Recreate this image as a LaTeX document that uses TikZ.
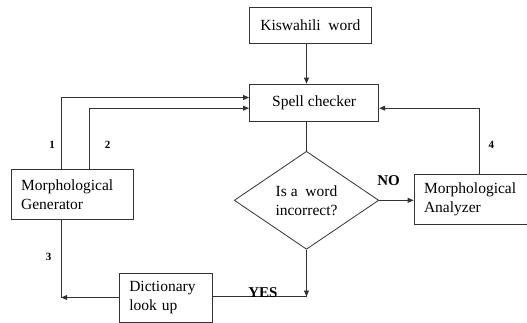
\documentclass[tikz,border=0pt]{standalone}
\usepackage{fontspec}
\setmainfont{Liberation Serif}
\usetikzlibrary{shapes.geometric,arrows.meta}
\begin{document}
\begin{tikzpicture}[x=1pt,y=-1pt,
  box/.style={draw=black!80, line width=0.8pt, rectangle, inner sep=0pt, font=\fontsize{15.5}{19}\selectfont},
  lbox/.style={box, align=left, text width=#1, inner xsep=10pt},
  conn/.style={draw=black!80, line width=0.8pt},
  arr/.style={conn, -{Triangle[length=6pt,width=5pt]}},
  num/.style={font=\fontsize{11}{13}\selectfont\bfseries, anchor=base},
  yn/.style={font=\fontsize{15}{17}\selectfont\bfseries, anchor=base}]
\useasboundingbox (0,0) rectangle (527,323);
\node[box, minimum width=122pt, minimum height=35.6pt] (kis) at (310.4,25.2) {Kiswahili\ \ word};
\node[box, minimum width=129.4pt, minimum height=37.7pt] (spell) at (314.1,102.9) {Spell checker};
\node[diamond, draw=black!80, line width=0.8pt, minimum width=144.5pt, minimum height=98pt, inner sep=0pt, align=center, font=\fontsize{15.5}{19}\selectfont] (dia) at (306.5,200.3) {Is a\ \ word\\incorrect?};
\node[lbox=102.7pt, minimum height=50.5pt] (gen) at (72.5,194.3) {Morphological\\Generator};
\node[lbox=96pt, minimum height=49.4pt] (ana) at (472,199.5) {Morphological\\Analyzer};
\node[lbox=73.5pt, minimum height=49pt] (dict) at (166,297.5) {Dictionary\\look up};
\coordinate (yesend) at (306.5,296.5);
\coordinate (thr) at (61.2,297.5);
\draw[arr] (kis.south -| dia.north) -- (spell.north -| dia.north);
\draw[conn] (spell.south -| dia.north) -- (dia.north);
\draw[arr] (dia.east) -- (dia.east -| ana.west);
\draw[arr] ([xshift=7.7pt]ana.north) |- ([yshift=-5.3pt]spell.east);
\draw[arr] ([xshift=-11.3pt]gen.north) |- ([yshift=5.4pt]spell.west);
\draw[arr] ([xshift=17.2pt]gen.north) |- ([yshift=-5.3pt]spell.west);
\draw[arr] (dia.south) -- (yesend);
\draw[conn] (dict.east |- yesend) -- (yesend);
\draw[conn] ([xshift=-11.3pt]gen.south) -- (thr);
\draw[arr] (dict.west) -- (thr);
\node[num] (l1) at (52,148.6) {1};
\node[num] (l2) at (107.6,148.6) {2};
\node[num] (l3) at (48.7,260.5) {3};
\node[num] (l4) at (491.4,148.9) {4};
\node[yn] (no) at (388.6,185.5) {NO};
\node[yn] (yes) at (263,297) {YES};
\end{tikzpicture}
\end{document}
